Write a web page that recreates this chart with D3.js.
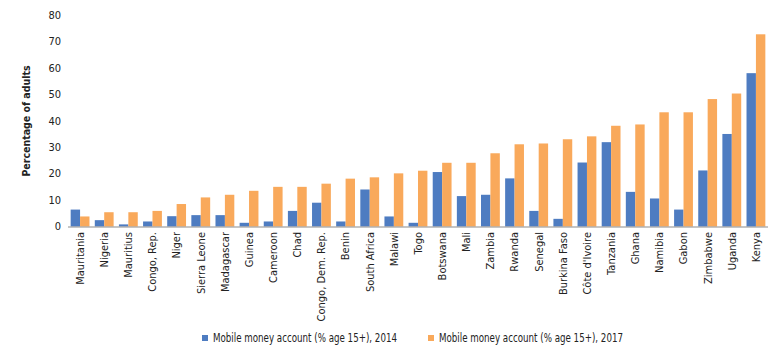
<!DOCTYPE html>
<html><head><meta charset="utf-8">
<script src="https://cdn.jsdelivr.net/npm/d3@7"></script>
<style>
body{margin:0;background:#fff;}
text{font-family:"DejaVu Sans Condensed","DejaVu Sans",sans-serif;font-stretch:condensed;fill:#222;}
</style></head><body>
<svg id="c" width="780" height="355"></svg>
<script>
const categories = ["Mauritania","Nigeria","Mauritius","Congo, Rep.","Niger","Sierra Leone","Madagascar","Guinea","Cameroon","Chad","Congo, Dem. Rep.","Benin","South Africa","Malawi","Togo","Botswana","Mali","Zambia","Rwanda","Senegal","Burkina Faso","Côte d'Ivoire","Tanzania","Ghana","Namibia","Gabon","Zimbabwe","Uganda","Kenya"];
const values2014 = [6.4,2.4,0.8,1.9,3.9,4.3,4.3,1.4,1.9,5.9,9.0,1.9,14.0,3.8,1.4,20.6,11.5,12.0,18.2,5.9,2.9,24.2,31.9,13.1,10.6,6.4,21.2,35.0,58.0];
const values2017 = [3.8,5.4,5.4,5.9,8.5,11.0,12.0,13.5,15.0,15.0,16.2,18.1,18.6,20.1,21.1,24.1,24.1,27.7,31.1,31.4,33.0,34.1,38.1,38.6,43.2,43.2,48.2,50.3,72.7];
const yTicks = [0,10,20,30,40,50,60,70,80];
const seriesNames = ["Mobile money account (% age 15+), 2014","Mobile money account (% age 15+), 2017"];
const colors = ["#4e7cc1","#f9a95b"];

const svg = d3.select("#c");
const x0 = 68, x1 = 768, yTop = 15, yBot = 226.5;
const x = d3.scaleBand().domain(categories).range([x0, x1]).paddingInner(0.22).paddingOuter(0.11);
const xs = d3.scaleBand().domain([0,1]).range([0, x.bandwidth()]);
const y = d3.scaleLinear().domain([0,80]).range([yBot, yTop]);

// y tick labels
svg.append("g").selectAll("text").data(yTicks).join("text")
  .attr("x", 61).attr("y", d => y(d)).attr("dy","0.35em")
  .attr("text-anchor","end").style("font-size","11px").text(d => d);

// y title
svg.append("text").attr("transform","translate(30,121) rotate(-90)")
  .attr("text-anchor","middle").style("font-size","10.5px").style("font-weight","bold")
  .text("Percentage of adults");

// bars
const series = [values2014, values2017];
series.forEach((vals, si) => {
  svg.append("g").selectAll("rect").data(categories).join("rect")
    .attr("x", (d) => x(d) + xs(si))
    .attr("width", xs.bandwidth())
    .attr("y", (d,i) => y(vals[i]))
    .attr("height", (d,i) => y(0) - y(vals[i]))
    .attr("fill", colors[si]);
});

// x axis line
svg.append("line").attr("x1", x0).attr("x2", x1).attr("y1", yBot+0.5).attr("y2", yBot+0.5)
  .attr("stroke","#8c8c8c").attr("stroke-width",1.2);

// x labels
svg.append("g").selectAll("text").data(categories).join("text")
  .attr("transform", d => `translate(${x(d)+x.bandwidth()/2},232) rotate(-90)`)
  .attr("dy","0.35em").attr("text-anchor","end").style("font-size","11px").text(d => d);

// legend
const legX = [202, 428];
seriesNames.forEach((n, i) => {
  svg.append("rect").attr("x", legX[i]).attr("y", 335).attr("width", 6).attr("height", 6).attr("fill", colors[i]);
  svg.append("text").attr("x", legX[i] + 11).attr("y", 338).attr("dy","0.35em")
    .attr("textLength", 184).attr("lengthAdjust","spacingAndGlyphs")
    .style("font-size","11.5px").text(n);
});
</script></body></html>
